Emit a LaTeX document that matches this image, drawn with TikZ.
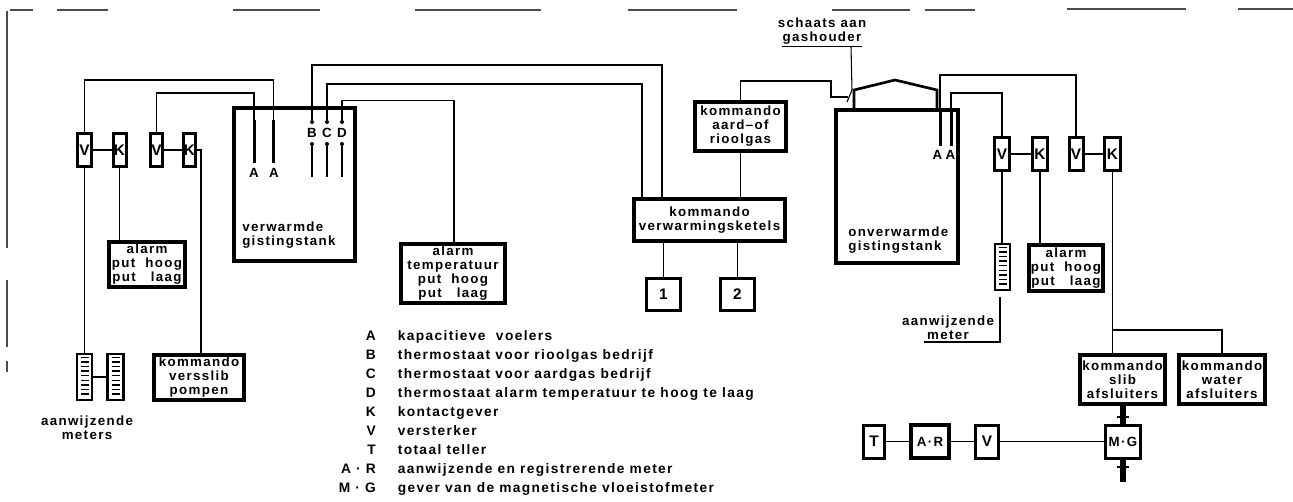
\documentclass[tikz,border=0pt]{standalone}
\usepackage{fontspec}
\setmainfont[LetterSpace=10]{Liberation Sans}
\usepackage{tikz}
\newcommand{\labelfont}{\bfseries\fontsize{10}{10.5}\selectfont}
\newcommand{\legendfont}{\bfseries\fontsize{10.3}{10.5}\selectfont}
\newcommand{\letterfont}{\bfseries\fontsize{11.5}{12}\selectfont}
\tikzset{
  every node/.style={font=\labelfont, inner sep=0pt, align=center},
  wire/.style={line width=0.8pt},
  boxsize/.style 2 args={minimum width=#1*0.75pt, minimum height=#2*0.75pt},
  smallbox/.style 2 args={draw, line width=2.25pt, font=\letterfont, boxsize={#1}{#2}},
  bigbox/.style 2 args={draw, line width=2.7pt, boxsize={#1}{#2}},
  tank/.style 2 args={draw, line width=3pt, boxsize={#1}{#2}},
  meterbox/.style 2 args={draw, line width=2pt, boxsize={#1}{#2}},
  sensor/.style={fill=black, boxsize={3}{#1}},
  contact/.style={circle, fill=black, minimum size=3pt},
  framepart/.style={line width=1pt, black!70},
  legendkey/.style={font=\legendfont, anchor=base east, text height=7.5pt, text depth=2pt},
  legendtext/.style={font=\legendfont, anchor=base west, text height=7.5pt, text depth=2pt},
}
\begin{document}
\begin{tikzpicture}[x=0.75pt, y=-0.75pt]
  \useasboundingbox (0,0) rectangle (1293,501);

  \draw[framepart] (10,10) -- (33,10) (57,10) -- (108,10) (233,10) -- (320,10)
    (415,10) -- (541,10) (628,10) -- (737,10) (832,10) -- (910,10) (925,10) -- (975,10)
    (1067,9) -- (1186,9) (1238,9) -- (1293,9);
  \draw[framepart] (7,11) -- (7,248) (7,280) -- (7,347) (7,361) -- (7,372);

  \node[smallbox={14}{33}] (V1) at (84.5,150) {V};
  \node[smallbox={13}{33}] (K1) at (119.5,150) {K};
  \node[smallbox={12}{33}] (V2) at (156.5,150) {V};
  \node[smallbox={12}{33}] (K2) at (189.5,150) {K};
  \node[tank={121}{153}] (tankL) at (294.5,184.5) {};
  \node[bigbox={76.5}{45.5}] (alarmL) at (147,264.5) {alarm\\put\ \ hoog\\put\ \ \ laag};
  \node[bigbox={104.5}{59.5}] (alarmM) at (453,273.5) {alarm\\temperatuur\\put\ \ hoog\\put\ \ \ laag};
  \node[bigbox={90.5}{45.5}] (pumps) at (199,377.5) {kommando\\versslib\\pompen};
  \node[meterbox={15}{46}] (meterA) at (84.5,377) {};
  \node[meterbox={16.5}{46}] (meterB) at (115.5,377) {};
  \node (metersL) at (87,428) {aanwijzende\\meters};

  \node[sensor=43] (sA1) at (254,141.5) {};
  \node[sensor=43] (sA2) at (273.5,141.5) {};
  \node (lA1) at (254,173) {A};
  \node (lA2) at (274,173) {A};
  \node[contact] (dotB) at (312,122) {};
  \node[contact] (dotC) at (327,122) {};
  \node[contact] (dotD) at (342,122) {};
  \node (lB) at (312,133) {B};
  \node (lC) at (327,133) {C};
  \node (lD) at (342,133) {D};
  \node[contact] (endB) at (312,144) {};
  \node[contact] (endC) at (327,144) {};
  \node[contact] (endD) at (342,144) {};
  \coordinate (tailB) at (312,177);
  \coordinate (tailC) at (327,177);
  \coordinate (tailD) at (342,177);
  \node[anchor=west, align=left] (nameL) at (242,235.5) {verwarmde\\gistingstank};

  \node[bigbox={151.5}{42.5}] (heating) at (709.5,220) {kommando\\verwarmingsketels};
  \node[bigbox={91.5}{49.5}] (gas) at (740.5,126.5) {kommando\\aard--of\\rioolgas};
  \node[smallbox={34}{32}] (boiler1) at (663.5,294.5) {1};
  \node[smallbox={34}{32}] (boiler2) at (737.5,294.5) {2};

  \node (skate) at (822,31.5) {schaats aan\\gashouder};
  \coordinate (skateL) at (782,46.7);
  \coordinate (skateR) at (862,46.7);
  \coordinate (skateM) at (851,46.7);
  \coordinate (switchA) at (847,102);
  \coordinate (switchB) at (852,90);
  \coordinate (switchC) at (848,97);

  \node[tank={122}{153}] (tankR) at (897,186.5) {};
  \node[sensor=38] (sR1) at (940,127) {};
  \node[sensor=38] (sR2) at (951,127) {};
  \node (lR1) at (937.5,155) {A};
  \node (lR2) at (950.5,155) {A};
  \node[anchor=west, align=left] (nameR) at (848,240) {onverwarmde\\gistingstank};

  \node[smallbox={15}{33}] (V3) at (1002,154) {V};
  \node[smallbox={15}{33}] (K3) at (1040,154) {K};
  \node[smallbox={14}{33}] (V4) at (1076,154) {V};
  \node[smallbox={16}{33}] (K4) at (1112.5,154) {K};
  \node[meterbox={15}{46}] (meterC) at (1002.5,267) {};
  \node[bigbox={74.5}{46.5}] (alarmR) at (1066,268) {alarm\\put\ \ hoog\\put\ \ \ laag};
  \node (meterR) at (948,327.5) {aanwijzende\\meter};
  \coordinate (meterRa) at (1000,297);
  \coordinate (meterRb) at (1000,342);
  \coordinate (meterRc) at (924,342);

  \node[bigbox={85.5}{49.5}] (sludge) at (1122.5,379.5) {kommando\\slib\\afsluiters};
  \node[bigbox={86.5}{49.5}] (water) at (1222,379.5) {kommando\\water\\afsluiters};
  \coordinate (branch) at (1113,330);
  \node[smallbox={35}{33}, font=\labelfont] (MG) at (1123,441.5) {M·G};
  \node[smallbox={21}{33}] (T) at (874,441.5) {T};
  \node[bigbox={38.5}{32.5}] (AR) at (930,441.5) {A·R};
  \node[smallbox={23}{33}] (V5) at (987,441.5) {V};
  \coordinate (pipeEnd) at (1123,482);

  \foreach \m in {meterA, meterB, meterC} {
    \foreach \i in {1,...,9} {
      \draw[line width=1pt] ([xshift=-3pt, yshift=-\i*3.45pt]\m.north) -- ([xshift=3pt, yshift=-\i*3.45pt]\m.north);
    }
  }

  \draw[wire] (V1.north) |- (273.5,80) -- (sA2.north);
  \draw[wire] (V2.north) |- (254,93) -- (sA1.north);
  \draw[wire] (V1) -- (K1);
  \draw[wire] (V2) -- (K2);
  \draw[wire] (K1.south) -- (K1.south |- alarmL.north);
  \draw[wire] (V1.south) -- (meterA.north);
  \draw[wire] (meterA) -- (meterB);
  \draw[wire] (K2.east) -| ([xshift=1.5pt]pumps.north);

  \draw[wire] (dotB) |- (662,65) -- (662,65 |- heating.north);
  \draw[wire] (dotC) |- (642,84) -- (642,84 |- heating.north);
  \draw[wire] (dotD) |- (454,100.7) -- (454,100.7 |- alarmM.north);
  \draw[line width=1.4pt] (endB) -- (tailB);
  \draw[line width=1.4pt] (endC) -- (tailC);
  \draw[line width=1.4pt] (endD) -- (tailD);

  \draw[wire] (gas.south) -- (gas.south |- heating.north);
  \draw[wire] (gas.north) |- (831,81) |- (switchC);
  \draw[wire] (switchA) -- (switchB);
  \draw[wire] (skateL) -- (skateR);
  \draw[wire] (skateM) -- (switchB);
  \draw[wire] (boiler1.north) -- (boiler1.north |- heating.south);
  \draw[wire] (boiler2.north) -- (boiler2.north |- heating.south);

  \draw[line width=2pt] (854,108) -- (854,90) -- (895,80) -- (937,90) -- (937,108);
  \draw[wire] (sR1.north) |- (1076,75) -- (V4.north);
  \draw[wire] (sR2.north) |- (1002,93) -- (V3.north);
  \draw[wire] (V3) -- (K3);
  \draw[wire] (V4) -- (K4);
  \draw[wire] (V3.south) -- (V3.south |- meterC.north);
  \draw[wire] (K3.south) -- (K3.south |- alarmR.north);
  \draw[wire] (meterRa) -- (meterRb) -- (meterRc);
  \draw[wire] (K4.south) -- (K4.south |- sludge.north);
  \draw[wire] (branch) -| (water.north);

  \draw[wire] (T) -- (AR);
  \draw[wire] (AR) -- (V5);
  \draw[wire] (V5) -- (MG);
  \draw[line width=4pt] (MG.north |- sludge.south) -- (MG.north);
  \draw[line width=4pt] (MG.south) -- (pipeEnd);
  \draw[line width=2pt] (1117,417) -- (1129,417);
  \draw[line width=2pt] (1117,467) -- (1129,467);

  \matrix (legend) [anchor=north west, row sep=4.75pt, column sep=16.5pt, inner sep=0pt] at (338.5,330.6) {
    \node[legendkey] (kA) {A}; & \node[legendtext] (tA) {kapacitieve\ \ voelers}; \\
    \node[legendkey] (kB) {B}; & \node[legendtext] (tB) {thermostaat voor rioolgas bedrijf}; \\
    \node[legendkey] (kC) {C}; & \node[legendtext] (tC) {thermostaat voor aardgas bedrijf}; \\
    \node[legendkey] (kD) {D}; & \node[legendtext] (tD) {thermostaat alarm temperatuur te hoog te laag}; \\
    \node[legendkey] (kK) {K}; & \node[legendtext] (tK) {kontactgever}; \\
    \node[legendkey] (kV) {V}; & \node[legendtext] (tV) {versterker}; \\
    \node[legendkey] (kT) {T}; & \node[legendtext] (tT) {totaal teller}; \\
    \node[legendkey] (kAR) {A · R}; & \node[legendtext] (tAR) {aanwijzende en registrerende meter}; \\
    \node[legendkey] (kMG) {M · G}; & \node[legendtext] (tMG) {gever van de magnetische vloeistofmeter}; \\
  };
\end{tikzpicture}
\end{document}
